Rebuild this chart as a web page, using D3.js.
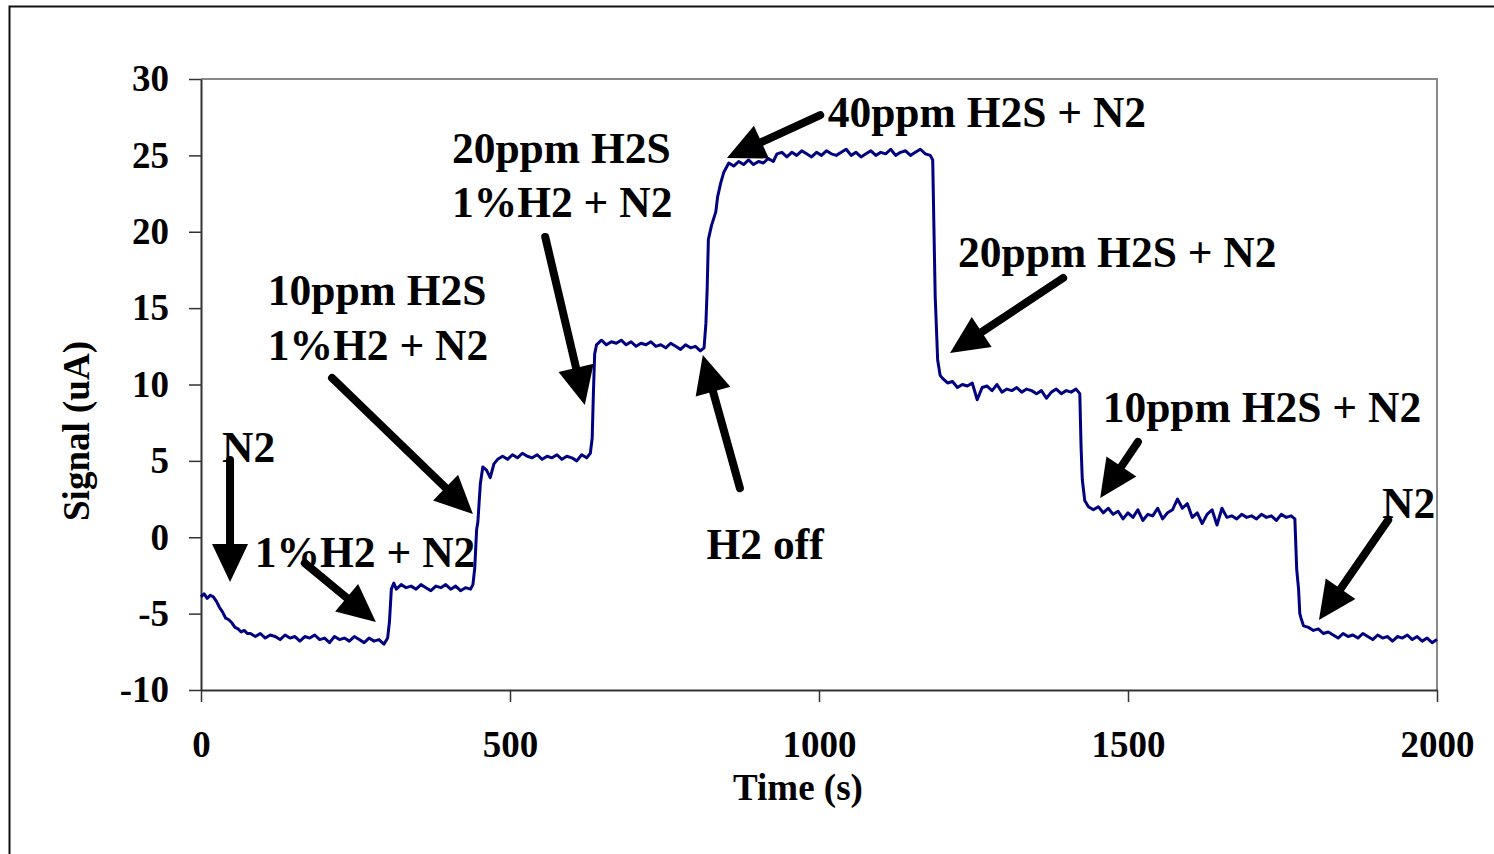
<!DOCTYPE html>
<html>
<head>
<meta charset="utf-8">
<script src="https://cdn.jsdelivr.net/npm/d3@7"></script>
<style>
  html, body { margin: 0; padding: 0; background: #fff; }
  svg { display: block; }
  text { font-family: "Liberation Serif", "Times New Roman", serif; font-weight: bold; fill: #000; }
</style>
</head>
<body>
<svg class="signal-svg" width="1494" height="854"></svg>
<script>
// time (s) and sensor signal (uA)
const timeS = [
  0, 5, 10, 15, 20, 25, 30, 35, 40, 45, 50, 55, 60, 65, 70, 75,
  80, 88, 96, 104, 112, 120, 128, 136, 144, 152, 160, 168, 176, 184, 192, 200,
  208, 216, 224, 232, 240, 248, 256, 264, 272, 280, 288, 296, 302, 305, 308, 312,
  316, 324, 332, 340, 348, 356, 364, 372, 380, 388, 396, 404, 412, 420, 428, 436, 440,
  443, 446, 448, 452, 456, 462, 468, 474, 480, 488,
  496, 504, 512, 520, 528, 536, 544, 552, 560, 568, 576, 584, 592, 600, 608, 616, 624, 630,
  633, 635, 637, 640,
  648, 656, 664, 672, 680, 688, 696, 704, 712, 720, 728, 736, 744, 752, 760, 768, 776, 784, 792, 800, 808, 814,
  817, 819, 821, 826, 833, 836, 841, 846, 854,
  862, 870, 878, 886, 894, 902, 910, 918, 926, 932, 940, 948, 956, 964, 972, 980, 988, 996,
  1004, 1012, 1020, 1028, 1036, 1044, 1052, 1060, 1068, 1076, 1084, 1092, 1100, 1108, 1116, 1124,
  1132, 1140, 1148, 1156, 1164, 1172, 1180, 1184,
  1186, 1188, 1192, 1196, 1200,
  1208, 1216, 1224, 1232, 1240, 1248, 1256, 1264, 1272, 1280, 1288, 1296, 1304, 1312, 1320, 1328,
  1336, 1344, 1352, 1360, 1368, 1376, 1384, 1392, 1400, 1408, 1416, 1422,
  1424, 1426, 1430, 1436, 1444, 1452, 1460, 1468, 1476, 1484, 1492, 1500, 1508, 1516, 1524, 1532,
  1540, 1548, 1556, 1564, 1572, 1580, 1588, 1596, 1604, 1612, 1620, 1628, 1636, 1644, 1652, 1660,
  1668, 1676, 1684, 1692, 1700, 1708, 1716, 1724, 1732, 1740, 1748, 1756, 1764, 1770,
  1773, 1776, 1778, 1780, 1784,
  1792, 1800, 1808, 1816, 1824, 1832, 1840, 1848, 1856, 1864, 1872, 1880, 1888, 1896, 1904, 1912,
  1920, 1928, 1936, 1944, 1952, 1960, 1968, 1976, 1984, 1992, 2000
];
const signalUA = [
  -3.9, -3.7, -4.0, -3.8, -3.9, -4.2, -4.6, -4.9, -5.3, -5.4, -5.6, -5.9, -6.0, -6.2, -6.1, -6.3,
  -6.3, -6.5, -6.3, -6.6, -6.4, -6.5, -6.7, -6.4, -6.6, -6.5, -6.8, -6.5, -6.6, -6.4, -6.7, -6.6,
  -6.9, -6.5, -6.7, -6.6, -6.8, -6.5, -6.7, -6.9, -6.6, -6.8, -6.7, -7.0, -6.6, -5.5, -3.4, -3.0,
  -3.4, -3.1, -3.3, -3.2, -3.4, -3.1, -3.3, -3.5, -3.2, -3.3, -3.1, -3.4, -3.2, -3.5, -3.3, -3.4, -3.1,
  -2.0, 0.5, 1.0, 3.5, 4.6, 4.4, 3.9, 4.8, 5.1, 5.3,
  5.1, 5.4, 5.2, 5.5, 5.3, 5.2, 5.4, 5.1, 5.3, 5.2, 5.4, 5.1, 5.3, 5.2, 5.0, 5.4, 5.2, 5.5,
  6.5, 9.5, 12.0, 12.6,
  12.9, 12.6, 12.8, 12.7, 12.9, 12.6, 12.8, 12.5, 12.7, 12.6, 12.8, 12.5, 12.6, 12.4, 12.7, 12.5, 12.3, 12.6, 12.4, 12.5, 12.2, 12.4,
  14.0, 16.2, 19.5, 20.4, 21.3, 22.3, 23.2, 23.9, 24.5,
  24.3, 24.6, 24.4, 24.7, 24.4, 24.6, 24.5, 24.8, 24.6, 25.1, 25.2, 24.9, 25.2, 25.0, 25.3, 25.1, 24.9, 25.2,
  25.0, 25.3, 25.1, 25.0, 25.2, 25.4, 25.0, 25.2, 24.9, 25.1, 25.3, 25.0, 25.2, 25.1, 25.4, 25.0,
  25.2, 25.3, 25.0, 25.2, 25.4, 25.1, 25.0, 24.7,
  20.2, 15.8, 11.6, 10.6, 10.4,
  10.1, 10.2, 9.8, 10.0, 9.9, 10.1, 9.0, 9.8, 9.9, 9.6, 10.0, 9.5, 9.7, 9.6, 9.8, 9.5,
  9.7, 9.6, 9.4, 9.6, 9.1, 9.5, 9.7, 9.4, 9.6, 9.5, 9.7, 9.4,
  6.0, 3.8, 2.4, 2.0, 1.8, 2.0, 1.6, 1.9, 1.5, 1.7, 1.2, 1.6, 1.3, 1.8, 1.1, 1.5,
  1.4, 1.9, 1.2, 1.6, 1.8, 2.5, 1.9, 2.2, 1.3, 1.6, 0.9, 1.5, 1.8, 0.8, 1.9, 1.3,
  1.4, 1.2, 1.5, 1.3, 1.4, 1.2, 1.5, 1.3, 1.4, 1.1, 1.5, 1.3, 1.4, 1.2,
  -2.1, -3.4, -5.0, -5.3, -5.8,
  -5.9, -6.1, -6.0, -6.3, -6.2, -6.4, -6.6, -6.3, -6.5, -6.4, -6.6, -6.3, -6.5, -6.7, -6.4, -6.6,
  -6.5, -6.8, -6.5, -6.6, -6.4, -6.7, -6.5, -6.8, -6.6, -6.9, -6.7
];
const xTicks = [0, 500, 1000, 1500, 2000];
const yTicks = [-10, -5, 0, 5, 10, 15, 20, 25, 30];

// annotation text lines: [time, signal, label]
const noteLabels = [
  [34, 4.9, "N2"],
  [87, -1.95, "1%H2 + N2"],
  [108, 15.2, "10ppm H2S"],
  [108, 11.6, "1%H2 + N2"],
  [406, 24.5, "20ppm H2S"],
  [406, 20.95, "1%H2 + N2"],
  [1014, 26.86, "40ppm H2S + N2"],
  [818, -1.42, "H2 off"],
  [1225, 17.7, "20ppm H2S + N2"],
  [1459, 7.52, "10ppm H2S + N2"],
  [1911, 1.26, "N2"]
];
// arrows: [tailTime, tailSignal, tipTime, tipSignal]
const noteArrows = [
  [47, 5.06, 47, -2.93],
  [168, -1.69, 283, -5.55],
  [212, 10.43, 440, 1.52],
  [557, 19.66, 621, 8.66],
  [872, 3.22, 812, 11.93],
  [1002, 27.64, 851, 24.83],
  [1395, 16.97, 1212, 12.06],
  [1516, 6.24, 1455, 2.57],
  [1921, 1.13, 1809, -5.42]
];

const svg = d3.select(".signal-svg");
const plot = { left: 201, right: 1437, top: 79, bottom: 690 };

const xScale = d3.scaleLinear().domain([0, 2000]).range([plot.left, plot.right]);
const yScale = d3.scaleLinear().domain([-10, 30]).range([plot.bottom, plot.top]);

// outer frame (only the top and left edges show in the picture)
svg.append("path")
  .attr("d", "M9.5,854 V6.5 H1494")
  .attr("fill", "none")
  .attr("stroke", "#111")
  .attr("stroke-width", 2);

// plot box top & right
svg.append("path")
  .attr("d", `M${plot.left},${plot.top} H${plot.right} V${plot.bottom}`)
  .attr("fill", "none")
  .attr("stroke", "#888")
  .attr("stroke-width", 2);

const xAxis = svg.append("g")
  .attr("class", "x-axis")
  .attr("transform", `translate(0,${plot.bottom})`)
  .call(d3.axisBottom(xScale).tickValues(xTicks).tickFormat((d) => String(d))
    .tickSize(12).tickSizeOuter(0).tickPadding(29));

const yAxis = svg.append("g")
  .attr("class", "y-axis")
  .attr("transform", `translate(${plot.left},0)`)
  .call(d3.axisLeft(yScale).tickValues(yTicks).tickFormat((d) => String(d))
    .tickSize(12).tickSizeOuter(0).tickPadding(20));

[xAxis, yAxis].forEach((axis) => {
  axis.select(".domain").attr("stroke", "#333").attr("stroke-width", 2);
  axis.selectAll(".tick line").attr("stroke", "#333").attr("stroke-width", 1.5);
  axis.selectAll("text")
    .attr("font-family", null)
    .attr("font-size", null)
    .style("font-size", "37px")
    .attr("fill", "#000");
});

svg.append("text")
  .attr("x", 798)
  .attr("y", 800)
  .attr("text-anchor", "middle")
  .style("font-size", "37px")
  .text("Time (s)");

svg.append("text")
  .attr("transform", "translate(89,431) rotate(-90)")
  .attr("text-anchor", "middle")
  .style("font-size", "37px")
  .text("Signal (uA)");

// signal trace
const data = timeS.map((t, i) => ({ t, v: signalUA[i] }));
const line = d3.line()
  .x((d) => xScale(d.t))
  .y((d) => yScale(d.v));

svg.append("path")
  .datum(data)
  .attr("d", line)
  .attr("fill", "none")
  .attr("stroke", "#000080")
  .attr("stroke-width", 3)
  .attr("stroke-linejoin", "round");

// annotations
svg.append("g")
  .selectAll("text")
  .data(noteLabels)
  .join("text")
  .attr("x", (d) => xScale(d[0]))
  .attr("y", (d) => yScale(d[1]))
  .style("font-size", "43.5px")
  .text((d) => d[2]);

const headLen = 38;
const headHalf = 18;
const arrows = svg.append("g")
  .selectAll(".arrow")
  .data(noteArrows)
  .join("g")
  .attr("class", "arrow");

arrows.each(function (d) {
  const x0 = xScale(d[0]), y0 = yScale(d[1]);
  const x1 = xScale(d[2]), y1 = yScale(d[3]);
  const len = Math.hypot(x1 - x0, y1 - y0);
  const ux = (x1 - x0) / len, uy = (y1 - y0) / len;
  const bx = x1 - ux * headLen, by = y1 - uy * headLen;
  const g = d3.select(this);
  g.append("line")
    .attr("x1", x0).attr("y1", y0)
    .attr("x2", bx + ux * 2).attr("y2", by + uy * 2)
    .attr("stroke", "#000")
    .attr("stroke-width", 8)
    .attr("stroke-linecap", "round");
  g.append("polygon")
    .attr("points", [
      [x1, y1],
      [bx - uy * headHalf, by + ux * headHalf],
      [bx + uy * headHalf, by - ux * headHalf],
    ].map((p) => p.join(",")).join(" "))
    .attr("fill", "#000");
});
</script>
</body>
</html>
